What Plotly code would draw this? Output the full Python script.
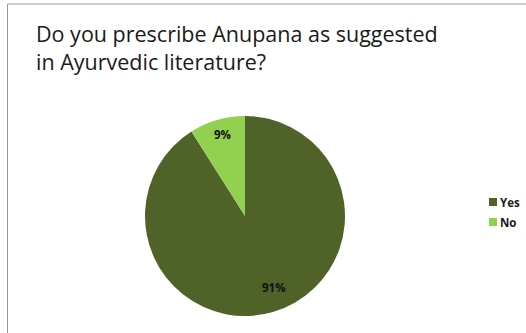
import math
import plotly.graph_objects as go

# Survey answers
answers = ["Yes", "No"]
shares = [91, 9]
slice_colors = ["#4F6228", "#92D050"]
question = "Do you prescribe Anupana as suggested<br>in Ayurvedic literature?"

W, H = 526, 333

# pie geometry in pixels (centre and radius)
CX, CY, R = 245, 216, 100
# per-slice label placement: fraction of the radius and angular nudge (deg)
label_radius = [0.77, 0.84]
label_nudge = [-6, 1]

fig = go.Figure(
    go.Pie(
        labels=answers,
        values=shares,
        sort=False,
        direction="clockwise",
        rotation=0,
        marker=dict(colors=slice_colors, line=dict(width=0)),
        textinfo="none",
        domain=dict(x=[(CX - R) / W, (CX + R) / W],
                    y=[(H - CY - R) / H, (H - CY + R) / H]),
        hoverinfo="label+percent",
        showlegend=False,
    )
)

# percentage labels placed along each slice's mid-angle
total = sum(shares)
start = 0.0
for i, v in enumerate(shares):
    frac = v / total
    mid = start + frac * 180.0 + label_nudge[i]  # degrees, clockwise from top
    start += frac * 360.0
    rr = R * label_radius[i]
    px = CX + rr * math.sin(math.radians(mid))
    py = CY - rr * math.cos(math.radians(mid))
    fig.add_annotation(
        x=px / W, y=1 - py / H, xref="paper", yref="paper",
        text=f"<b>{round(frac * 100)}%</b>", showarrow=False,
        xanchor="center", yanchor="middle",
        font=dict(family="Open Sans, sans-serif", size=11.5, color="#111111"),
    )

# question heading
fig.add_annotation(
    x=34 / W, y=1 - 17 / H, xref="paper", yref="paper",
    xanchor="left", yanchor="top", align="left",
    text=question, showarrow=False,
    font=dict(family="Open Sans, sans-serif", size=21.5, color="#1a1a1a"),
)

# legend keys: coloured squares with answer names
for i, (name, col) in enumerate(zip(answers, slice_colors)):
    ky = 202 + 20 * i
    fig.add_shape(type="rect", xref="paper", yref="paper",
                  x0=489 / W, x1=497 / W, y0=1 - (ky + 4) / H, y1=1 - (ky - 4) / H,
                  fillcolor=col, line=dict(width=0))
    fig.add_annotation(
        x=498 / W, y=1 - ky / H, xref="paper", yref="paper",
        xanchor="left", yanchor="middle", text=f"<b>{name}</b>", showarrow=False,
        font=dict(family="Open Sans, sans-serif", size=11.5, color="#1a1a1a"),
    )

# frame lines along the top and left edges
fig.add_shape(type="line", xref="paper", yref="paper",
              x0=7.5 / W, x1=1, y0=1 - 4 / H, y1=1 - 4 / H,
              line=dict(color="#999999", width=1))
fig.add_shape(type="line", xref="paper", yref="paper",
              x0=7.5 / W, x1=7.5 / W, y0=0, y1=1 - 4 / H,
              line=dict(color="#999999", width=1))

fig.update_layout(
    width=W, height=H,
    margin=dict(l=0, r=0, t=0, b=0, autoexpand=False),
    paper_bgcolor="white",
    plot_bgcolor="white",
    showlegend=False,
)

fig.write_html("out.html")
